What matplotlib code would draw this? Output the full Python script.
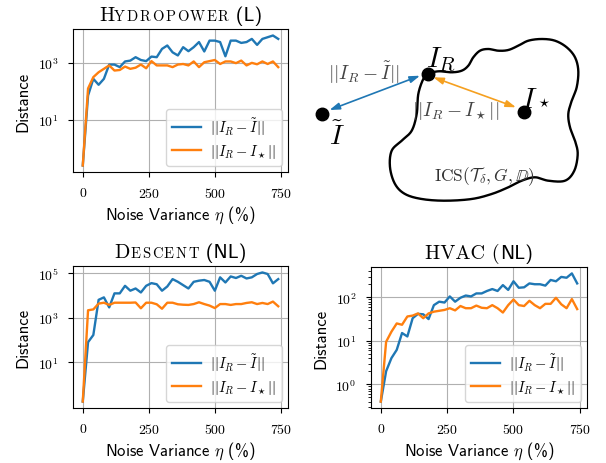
import numpy as np
import matplotlib
matplotlib.use("Agg")
import matplotlib.pyplot as plt
from matplotlib.ticker import FixedLocator, NullLocator, LogLocator, NullFormatter
from matplotlib.offsetbox import TextArea, HPacker, AnchoredOffsetbox

plt.rcParams['font.family'] = 'cmr10'
plt.rcParams['mathtext.fontset'] = 'cm'
plt.rcParams['axes.formatter.use_mathtext'] = True
plt.rcParams['axes.unicode_minus'] = False

# ---------------- data ----------------
noise = [0, 20, 40, 60, 80, 100, 120, 140, 160, 180, 200, 220, 240, 260, 280,
         300, 320, 340, 360, 380, 400, 420, 440, 460, 480, 500, 520, 540, 560,
         580, 600, 620, 640, 660, 680, 700, 720, 740]

hydro_tilde = [0.25, 71, 275, 170, 275, 870, 870, 710, 1120, 1200, 1580, 1260, 1150,
               1660, 1580, 3090, 4070, 2340, 1820, 3550, 2570, 3550, 5370, 2510, 6030,
               6030, 5370, 1700, 6030, 6030, 5010, 5370, 6920, 4270, 6920, 7940, 9120, 6920]
hydro_star = [0.25, 126, 316, 468, 617, 813, 537, 562, 741, 617, 676, 871, 646, 1150,
              813, 813, 813, 708, 871, 912, 813, 1120, 708, 1050, 1150, 1260, 912, 1120,
              1120, 977, 1200, 813, 1000, 891, 1120, 912, 1120, 708]

descent_tilde = [0.17, 79, 166, 6310, 8130, 2880, 12300, 12300, 26900, 16200, 20400,
                 13500, 26900, 35500, 31600, 16200, 25100, 53700, 40700, 28800, 20400,
                 40700, 45700, 49000, 40700, 16200, 64600, 38000, 70800, 60300, 75900,
                 57500, 64600, 91200, 107000, 91200, 34700, 53700]
descent_star = [0.17, 2140, 2340, 4270, 4680, 3720, 4680, 4680, 4680, 4680, 4790, 2630,
                4680, 4680, 3980, 2510, 4680, 4680, 3980, 3800, 3720, 4070, 4900, 4070,
                3470, 2690, 4070, 4070, 3720, 4070, 4070, 4570, 4900, 4070, 4570, 4070,
                5250, 3240]

hvac_tilde = [0.40, 2.0, 4.0, 6.2, 15.1, 12.6, 33.1, 41.7, 40.7, 31.6, 66.1, 79.4, 75.9,
              105, 79.4, 97.7, 110, 105, 123, 123, 140, 155, 140, 191, 148, 234, 166,
              170, 209, 200, 200, 186, 251, 234, 295, 282, 355, 209]
hvac_star = [0.40, 9.5, 16.2, 25.1, 23.4, 36.3, 38.0, 42.7, 33.1, 42.7, 46.8, 49.0, 51.3,
             56.2, 50.1, 63.1, 56.2, 56.2, 64.6, 57.5, 56.2, 66.1, 56.2, 44.7, 66.1, 89.1,
             66.1, 63.1, 83.2, 66.1, 56.2, 70.8, 70.8, 97.7, 69.2, 56.2, 91.2, 53.7]

x_ticks = [0, 250, 500, 750]
hydro_yticks = [1e1, 1e3]
descent_yticks = [1e1, 1e3, 1e5]
hvac_yticks = [1e0, 1e1, 1e2]

label_tilde = r'$||I_R - \tilde{I}||$'
label_star = r'$||I_R - I_\star||$'

# diagram (pixel coordinates of the reference picture)
blob_x = [428.3, 438.3, 451.7, 461.7, 468.3, 473.3, 480.0, 488.3, 498.3, 508.3, 518.3,
          528.3, 541.7, 555.0, 566.7, 575.0, 578.3, 576.7, 571.7, 568.3, 570.0, 575.0,
          577.7, 574.3, 565.0, 548.3, 535.0, 521.7, 508.3, 491.7, 471.7, 445.0, 421.7,
          405.0, 395.0, 390.0, 391.7, 401.7, 411.7, 416.7, 418.3, 423.3]
blob_y = [75.0, 72.3, 73.3, 71.7, 66.7, 58.3, 51.7, 50.0, 51.7, 51.0, 46.7, 41.7, 40.0,
          41.7, 48.3, 58.3, 71.7, 88.3, 101.7, 115.0, 128.3, 141.7, 155.0, 171.7, 181.7,
          181.7, 178.3, 181.7, 188.3, 195.0, 200.0, 201.7, 200.0, 195.0, 185.0, 168.3,
          151.7, 141.7, 131.7, 115.0, 95.0, 80.0]
pt_tilde = (321.7, 115.0)
pt_R = (428.3, 75.0)
pt_star = (524.0, 112.7)

BLUE = '#1f77b4'
ORANGE = '#ff7f0e'

W, H = 606, 464
fig = plt.figure(figsize=(W / 100, H / 100), dpi=100)

CAP = 14.5
SC = 10.5


def px_axes(x0, y0, x1, y1):
    return fig.add_axes([x0 / W, 1 - y1 / H, (x1 - x0) / W, (y1 - y0) / H])


def ta(s, fam, sz):
    return TextArea(s, textprops=dict(family=fam, size=sz, color='black'))


def title_pieces(ax, first, smallcaps, rest, y_off=0.03):
    children = []
    if first:
        children.append(ta(first, 'cmr10', CAP))
    if smallcaps:
        letters = [ta(c, 'cmr10', SC) for c in smallcaps]
        children.append(HPacker(children=letters, align='baseline', pad=0, sep=1.15))
    for s, fam in rest:
        children.append(ta(s, fam, CAP))
    pack = HPacker(children=children, align='baseline', pad=0, sep=0)
    box = AnchoredOffsetbox(loc='lower center', child=pack, frameon=False, pad=0,
                            borderpad=0, bbox_to_anchor=(0.5, 1.0 + y_off),
                            bbox_transform=ax.transAxes)
    ax.add_artist(box)


def make_panel(ax, tilde, star, yticks, minor=False):
    ax.plot(noise, tilde, color=BLUE, lw=1.7, label=label_tilde)
    ax.plot(noise, star, color=ORANGE, lw=1.7, label=label_star)
    ax.set_yscale('log')
    ax.yaxis.set_major_locator(FixedLocator(yticks))
    if minor:
        ax.yaxis.set_minor_locator(LogLocator(base=10, subs=np.arange(2, 10)))
    else:
        ax.yaxis.set_minor_locator(NullLocator())
    ax.yaxis.set_minor_formatter(NullFormatter())
    ax.set_xticks(x_ticks)
    ax.grid(True, which='major', color='#b0b0b0', lw=0.8)
    ax.tick_params(axis='both', which='major', labelsize=10)
    ax.tick_params(axis='x', pad=6.5)
    ax.tick_params(axis='y', pad=7)
    ax.set_xlabel(r'Noise Variance $\eta$ (%)', family='cmss10', size=12, labelpad=2.5)
    ax.set_ylabel('Distance', family='cmss10', size=12, labelpad=5)
    ax.legend(loc='lower right', fontsize=10.5, borderaxespad=0.4, handlelength=2.0,
              labelspacing=0.4, borderpad=0.4, handletextpad=0.6)


ax1 = px_axes(73, 30, 288, 173)
make_panel(ax1, hydro_tilde, hydro_star, hydro_yticks)
title_pieces(ax1, 'H', 'YDROPOWER', [(' (L)', 'cmss10')])

ax2 = px_axes(73, 267, 288, 409)
make_panel(ax2, descent_tilde, descent_star, descent_yticks)
title_pieces(ax2, 'D', 'ESCENT', [(' (NL)', 'cmss10')])

ax3 = px_axes(371, 268, 587, 409)
make_panel(ax3, hvac_tilde, hvac_star, hvac_yticks, minor=True)
title_pieces(ax3, '', '', [('HVAC (', 'cmr10'), ('NL)', 'cmss10')])

# ---------------- diagram ----------------
axd = fig.add_axes([300 / W, 1 - 230 / H, 306 / W, 230 / H])
axd.set_xlim(300, 606)
axd.set_ylim(230, 0)
axd.axis('off')


def closed_spline(xs, ys, n=24):
    P = np.column_stack([xs, ys])
    N = len(P)
    t = np.linspace(0, 1, n, endpoint=False)[:, None]
    segs = []
    for i in range(N):
        p0, p1, p2, p3 = P[i - 1], P[i], P[(i + 1) % N], P[(i + 2) % N]
        segs.append(0.5 * (2 * p1 + (-p0 + p2) * t + (2 * p0 - 5 * p1 + 4 * p2 - p3) * t ** 2
                           + (-p0 + 3 * p1 - 3 * p2 + p3) * t ** 3))
    out = np.vstack(segs + [P[:1]])
    return out[:, 0], out[:, 1]


bx, by = closed_spline(blob_x, blob_y)
axd.plot(bx, by, color='black', lw=1.7, solid_joinstyle='round')

arrow_style = '<|-|>,head_length=0.6,head_width=0.2'
axd.annotate('', xy=(329.5, 111.0), xytext=(420.0, 76.7),
             arrowprops=dict(arrowstyle=arrow_style, color=BLUE, lw=1.2,
                             shrinkA=0, shrinkB=0))
axd.annotate('', xy=(433.3, 78.3), xytext=(516.0, 108.3),
             arrowprops=dict(arrowstyle=arrow_style, color='#f5a020', lw=1.2,
                             shrinkA=0, shrinkB=0))

for p in (pt_tilde, pt_R, pt_star):
    axd.plot([p[0]], [p[1]], 'o', color='black', ms=9)

axd.text(425.5, 66.7, r'$I_R$', size=21, ha='left', va='baseline')
t_I = axd.text(521.0, 108.3, r'$I$', size=21, ha='left', va='baseline')
axd.annotate(r'$\star$', xy=(1.0, 0.0), xycoords=t_I, xytext=(0.5, 3.5),
             textcoords='offset points', size=11, ha='left', va='bottom')
axd.text(329.0, 145.0, r'$\tilde{I}$', size=20, ha='left', va='baseline')
axd.text(364.0, 73.0, r'$||I_R - \tilde{I}||$', size=14, ha='center', va='center', color='#444444')
axd.text(456.0, 111.0, r'$||I_R - I_\star||$', size=14, ha='center', va='center', color='#444444')
axd.text(484.0, 177.0, r'$\mathrm{ICS}(\mathcal{T}_\delta, G, \mathbb{D})$', size=12.5,
         ha='center', va='center', color='#333333')

fig.savefig('out.png', dpi=100)
